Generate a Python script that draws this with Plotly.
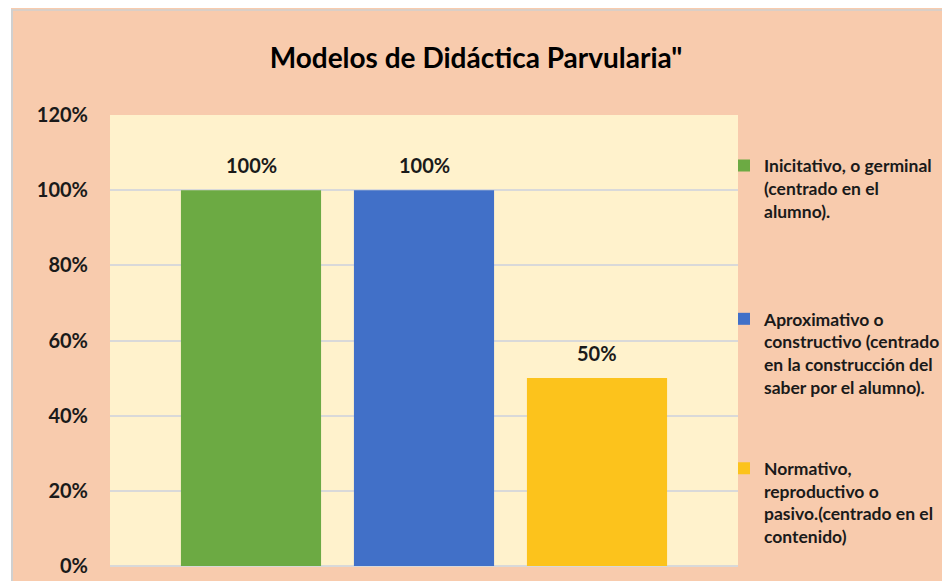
import plotly.graph_objects as go

categories = ["Inicitativo", "Aproximativo", "Normativo"]
series_names = [
    "Inicitativo, o germinal<br>(centrado en el<br>alumno).",
    "Aproximativo o<br>constructivo (centrado<br>en la construcción del<br>saber por el alumno).",
    "Normativo,<br>reproductivo o<br>pasivo.(centrado en el<br>contenido)",
]
series_values = [1.00, 1.00, 0.50]
series_colors = ["#6CAA43", "#4170C8", "#FCC31C"]
y_ticks = [0, 0.2, 0.4, 0.6, 0.8, 1.0, 1.2]

# page body has 8px margin -> figure drawn at (8,8)
OFF = 8
W, H = 950, 581
L, T = 110 - OFF, 115 - OFF
pw, ph = 628, 456
R = W - L - pw
B = H - T - ph

FONT = "Lato"
legend_ids = ["legend", "legend2", "legend3"]
legend_tops = [148, 303, 454]

fig = go.Figure()
for i, (cat, name, val, col) in enumerate(zip(categories, series_names, series_values, series_colors)):
    fig.add_trace(go.Bar(
        x=[cat], y=[val], name=name, legend=legend_ids[i],
        width=0.81,
        marker=dict(color=col, line=dict(width=0)),
    ))
    fig.add_annotation(
        x=cat, y=val, xref="x", yref="y", text=f"{val:.0%}", showarrow=False,
        yanchor="middle", yshift=25,
        font=dict(family=FONT, size=20, color="#1a1a1a", weight="bold"),
    )

def px_x(p):
    return (p - OFF - L) / pw

def px_y(p):
    return (H - B - (p - OFF)) / ph

shapes = [
    dict(type="rect", xref="paper", yref="paper", x0=px_x(0), x1=px_x(11), y0=px_y(H + 20), y1=px_y(0),
         fillcolor="white", line=dict(width=0), layer="above"),
    dict(type="rect", xref="paper", yref="paper", x0=px_x(11), x1=px_x(13), y0=px_y(H + 20), y1=px_y(8),
         fillcolor="#D0D0D0", line=dict(width=0), layer="above"),
    dict(type="rect", xref="paper", yref="paper", x0=px_x(11), x1=px_x(W + 20), y0=px_y(9.5), y1=px_y(8),
         fillcolor="#D0D0D0", line=dict(width=0), layer="above"),
]

legend_style = dict(xanchor="left", yanchor="top", bgcolor="rgba(0,0,0,0)", valign="top",
                    font=dict(family=FONT, size=17.5, color="#1a1a1a", weight="bold"))

fig.update_layout(
    width=W, height=H,
    margin=dict(l=L, r=R, t=T, b=B, pad=0),
    paper_bgcolor="#F8CBAD",
    plot_bgcolor="#FFF2CC",
    barmode="overlay",
    title=dict(text="Modelos de Didáctica Parvularia\"", x=(476 - OFF) / W, xref="container", xanchor="center",
               y=1 - (58 - OFF) / H, yref="container", yanchor="middle",
               font=dict(family=FONT, size=28, color="#000000", weight="bold")),
    xaxis=dict(range=[-0.815, 2.815], showticklabels=False, showgrid=False, zeroline=False, showline=False),
    yaxis=dict(range=[0, 1.2], tickvals=y_ticks, tickformat=".0%",
               tickfont=dict(family=FONT, size=20, color="#1a1a1a", weight="bold"),
               gridcolor="#D9D9D9", gridwidth=2, zeroline=True, zerolinecolor="#D9D9D9", zerolinewidth=2,
               showline=False, ticks="", ticklabelstandoff=21),
    legend=dict(x=px_x(724), y=px_y(legend_tops[0]), **legend_style),
    legend2=dict(x=px_x(724), y=px_y(legend_tops[1]), **legend_style),
    legend3=dict(x=px_x(724), y=px_y(legend_tops[2]), **legend_style),
    showlegend=True,
    shapes=shapes,
)

fig.write_html("out.html")
